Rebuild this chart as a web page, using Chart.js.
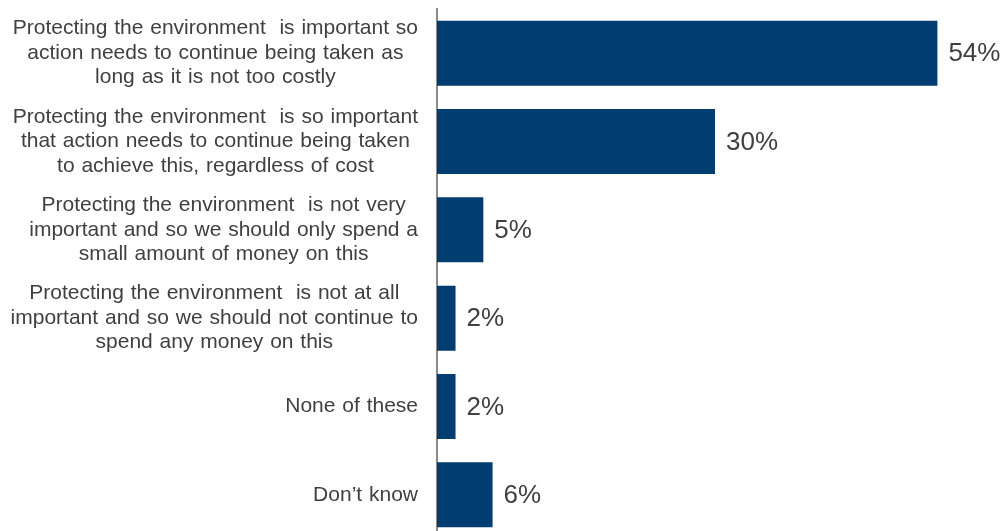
<!DOCTYPE html>
<html>
<head>
<meta charset="utf-8">
<script src="https://cdn.jsdelivr.net/npm/chart.js@4/dist/chart.umd.min.js"></script>
<style>
  html, body { margin: 0; padding: 0; background: #ffffff; overflow: hidden; }
  #wrap { position: relative; width: 1005px; height: 540px; }
</style>
</head>
<body>
<div id="wrap"><canvas id="chart"></canvas></div>
<script>
// Answer options (each entry is one label, split into its printed lines)
const categories = [
  ["Protecting the environment  is important so", "action needs to continue being taken as", "long as it is not too costly"],
  ["Protecting the environment  is so important", "that action needs to continue being taken", "to achieve this, regardless of cost"],
  ["Protecting the environment  is not very", "important and so we should only spend a", "small amount of money on this"],
  ["Protecting the environment  is not at all", "important and so we should not continue to", "spend any money on this"],
  ["None of these"],
  ["Don\u2019t know"]
];

// Share of respondents choosing each option (%)
const shares = [54, 30, 5, 2, 2, 6];

const BAR_COLOR = '#023d72';
const TEXT_COLOR = '#404040';
const FONT = "'Liberation Sans', Arial, sans-serif";

// Draws the centred multi-line category labels and the value labels
const labelPlugin = {
  id: 'labels',
  afterDatasetsDraw(chart) {
    const ctx = chart.ctx;
    const y = chart.scales.y;
    const meta = chart.getDatasetMeta(0);
    ctx.save();
    ctx.fillStyle = TEXT_COLOR;
    ctx.textBaseline = 'middle';

    // category labels: block right-aligned to the axis, lines centred in block
    ctx.font = '21px ' + FONT;
    if ('wordSpacing' in ctx) ctx.wordSpacing = '1px';
    const right = y.right - 19;
    const lineH = 24.5;
    categories.forEach((lines, i) => {
      const cy = y.getPixelForValue(i);
      const maxW = Math.max(...lines.map(l => ctx.measureText(l).width));
      const cx = right - maxW / 2;
      ctx.textAlign = 'center';
      lines.forEach((l, k) => {
        const ly = cy + (k - (lines.length - 1) / 2) * lineH;
        ctx.fillText(l, cx, ly);
      });
    });
    if ('wordSpacing' in ctx) ctx.wordSpacing = '0px';

    // value labels beside each bar
    ctx.font = '26px ' + FONT;
    ctx.textAlign = 'left';
    meta.data.forEach((bar, i) => {
      ctx.fillText(shares[i] + '%', bar.x + 11, bar.y + 1);
    });
    ctx.restore();
  }
};

new Chart(document.getElementById('chart'), {
  type: 'bar',
  data: {
    labels: categories,
    datasets: [{
      data: shares,
      backgroundColor: BAR_COLOR,
      borderWidth: 0,
      barPercentage: 0.735,
      categoryPercentage: 1.0
    }]
  },
  options: {
    indexAxis: 'y',
    responsive: true,
    maintainAspectRatio: false,
    animation: false,
    layout: { padding: { left: 0, right: 12, top: 9, bottom: 1 } },
    plugins: {
      legend: { display: false },
      tooltip: { enabled: false }
    },
    scales: {
      x: {
        display: false,
        min: 0,
        max: 60
      },
      y: {
        display: true,
        ticks: { display: false },
        grid: { display: false, drawTicks: false },
        border: { display: true, color: '#8a8a8a', width: 2 },
        afterFit(scale) { scale.width = 437; }
      }
    }
  },
  plugins: [labelPlugin]
});
</script>
</body>
</html>
